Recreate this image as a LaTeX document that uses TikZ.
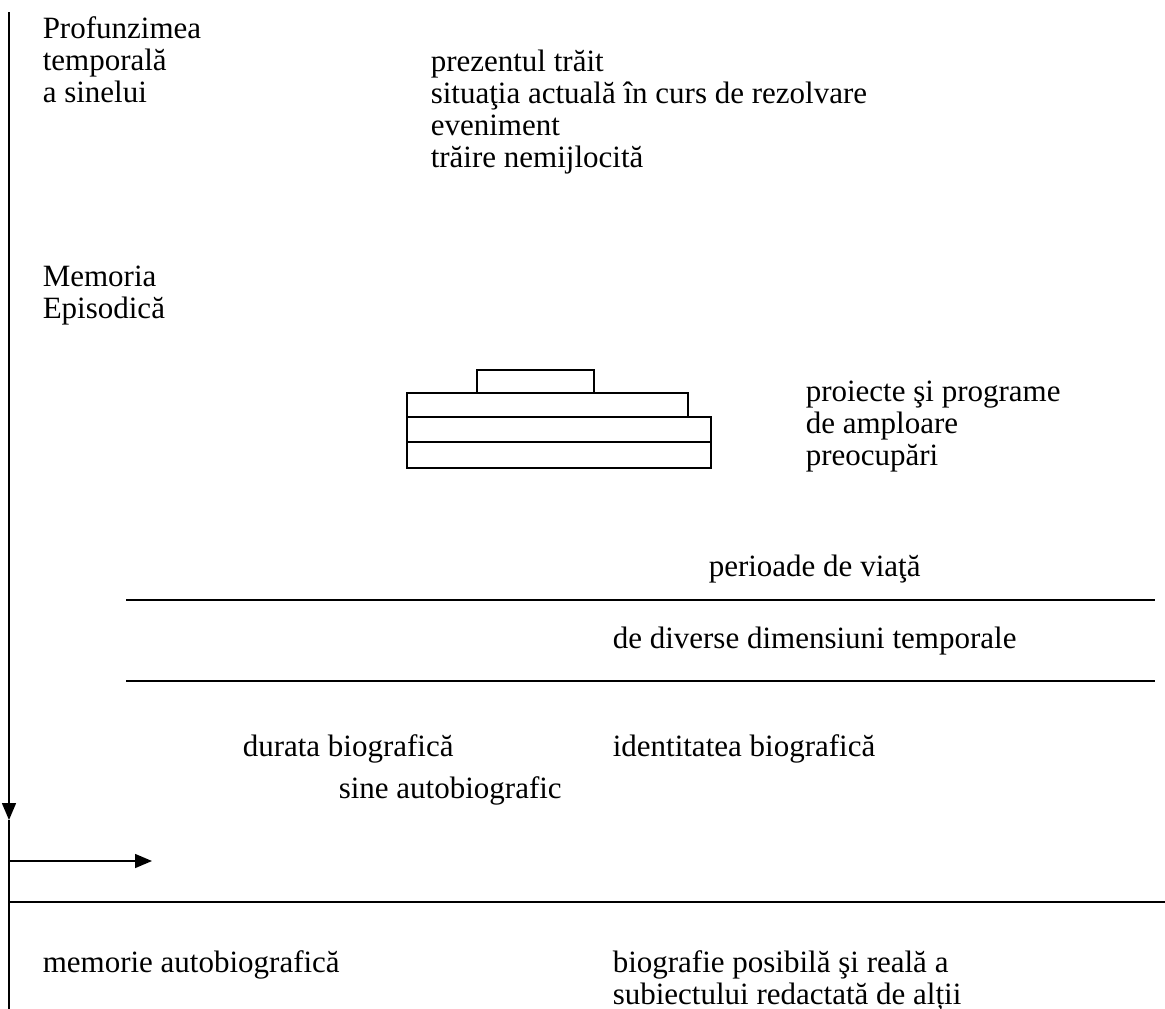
\documentclass[tikz,border=0pt]{standalone}
\usepackage{fontspec}
\setmainfont{Liberation Serif}
\usetikzlibrary{arrows.meta}
\begin{document}
\begin{tikzpicture}[x=1pt, y=-1pt, line width=1.5pt,
  txt/.style={anchor=base west, inner sep=0pt, align=left, font=\fontsize{31}{31.7}\selectfont},
  tip/.style={-{Triangle[length=17pt, width=14pt]}}]
\useasboundingbox (0,0) rectangle (1165,1009);
\node[txt] (depth) at (42,102) {Profunzimea\\temporală\\a sinelui};
\node[txt] (present) at (430,167) {prezentul trăit\\situaţia actuală în curs de rezolvare\\eveniment\\trăire nemijlocită};
\node[txt] (episodic) at (42,318) {Memoria\\Episodică};
\node[txt] (projects) at (805,465) {proiecte şi programe\\de amploare\\preocupări};
\node[txt] (periods) at (708,576) {perioade de viaţă};
\node[txt] (dims) at (612,648) {de diverse dimensiuni temporale};
\node[txt] (duration) at (242,756) {durata biografică};
\node[txt] (identity) at (612,756) {identitatea biografică};
\node[txt] (self) at (338,798) {sine autobiografic};
\node[txt] (memory) at (42,972) {memorie autobiografică};
\node[txt] (bio) at (612,1004) {biografie posibilă şi reală a\\subiectului redactată de alții};
\draw (477,370) rectangle (594,393);
\draw (407,393) rectangle (688,417);
\draw (407,417) rectangle (711,442);
\draw (407,442) rectangle (711,468);
\draw (126,600) -- (1155,600);
\draw (126,681) -- (1155,681);
\draw (9,902) -- (1165,902);
\coordinate (top) at (9,12);
\coordinate (mid) at (9,820);
\coordinate (bottom) at (9,1009);
\coordinate (start) at (9,861);
\coordinate (end) at (152,861);
\draw[tip] (top) -- (mid);
\draw (mid) -- (bottom);
\draw[tip] (start) -- (end);
\end{tikzpicture}
\end{document}
